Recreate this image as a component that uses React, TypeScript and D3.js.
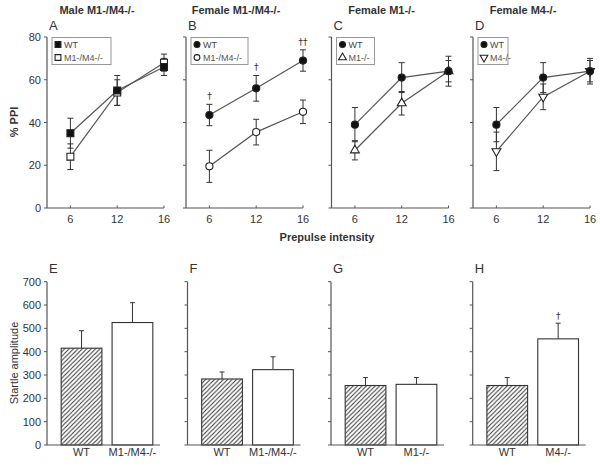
import React from "react";
import * as d3 from "d3";

const intensities = ["6", "12", "16"];

const titles = ["Male M1-/M4-/-", "Female M1-/M4-/-", "Female M1-/-", "Female M4-/-"];
const topLetters = ["A", "B", "C", "D"];
const bottomLetters = ["E", "F", "G", "H"];
const koNames = ["M1-/M4-/-", "M1-/M4-/-", "M1-/-", "M4-/-"];
const wtSymbols = ["square", "circle", "circle", "circle"];
const koSymbols = ["square", "circle", "triangle", "triangleDown"];

const wtPPI = [
  [35, 55, 66],
  [43.5, 56, 69],
  [39, 61, 64],
  [39, 61, 64],
];
const wtPPIErr = [
  [7, 7, 4],
  [5, 6, 5],
  [8, 7, 7],
  [8, 7, 6],
];
const koPPI = [
  [24, 54, 68],
  [19.5, 35.5, 45],
  [27, 49, 64],
  [26.5, 52, 64],
];
const koPPIErr = [
  [6, 6, 4],
  [7.5, 6, 5.5],
  [4.5, 5.5, 5],
  [9, 6, 5],
];
const ppiMarks = [
  ["", "", ""],
  ["†", "†", "††"],
  ["", "", ""],
  ["", "", ""],
];

const startleWT = [415, 283, 255, 255];
const startleWTErr = [75, 30, 34, 34];
const startleKO = [525, 323, 260, 455];
const startleKOErr = [85, 55, 29, 67];
const startleMarks = ["", "", "", "†"];

const ppiTicks = [0, 20, 40, 60, 80];
const startleTicks = [0, 100, 200, 300, 400, 500, 600, 700];

const topX0 = [47, 186, 331.5, 473];
const botX0 = [47, 187.5, 331, 472.7];
const legendW = [59, 57, 38, 30];

const FONT = "Liberation Sans, Arial, sans-serif";
const DAG = "DejaVu Sans, sans-serif";
const AX = "#555";
const TXT = "#333";

function symPath(kind: string, size: number) {
  if (kind === "square") return d3.symbol(d3.symbolSquare, size)()!;
  if (kind === "circle") return d3.symbol(d3.symbolCircle, size)()!;
  return d3.symbol(d3.symbolTriangle, size)()!;
}

function Marker({ kind, filled, x, y, size }: any) {
  const rot = kind === "triangleDown" ? 180 : 0;
  const sz = size ?? (kind === "square" ? 48 : kind === "circle" ? 40 : 34);
  return (
    <path
      d={symPath(kind, sz)}
      transform={`translate(${x},${y}) rotate(${rot})`}
      fill={filled ? "#111" : "#fff"}
      stroke="#222"
      strokeWidth={1.1}
    />
  );
}

function TopPanel({ i }: { i: number }) {
  const x0 = topX0[i];
  const W = 117;
  const y = d3.scaleLinear().domain([0, 80]).range([208, 37]);
  const xi = d3.scaleLinear().domain([-0.5, 2]).range([x0, x0 + W]);
  const line = d3
    .line<number>()
    .x((_, k) => xi(k))
    .y((d) => y(d));
  const series = [
    { v: koPPI[i], e: koPPIErr[i], kind: koSymbols[i], filled: false },
    { v: wtPPI[i], e: wtPPIErr[i], kind: wtSymbols[i], filled: true },
  ];
  const lx = x0 + 5;
  return (
    <g>
      <text x={x0 + 50} y={14} textAnchor="middle" fontFamily={FONT} fontWeight="bold" fontSize={11} fill={TXT}>
        {titles[i]}
      </text>
      <text x={x0 + 2} y={30} fontFamily={FONT} fontSize={13} fill={TXT}>
        {topLetters[i]}
      </text>
      <line x1={x0} x2={x0} y1={y(80)} y2={y(0)} stroke={AX} strokeWidth={1.2} />
      <line x1={x0} x2={x0 + W} y1={y(0)} y2={y(0)} stroke={AX} strokeWidth={1.2} />
      {ppiTicks.map((t) => (
        <g key={t}>
          <line x1={x0 - 3} x2={x0} y1={y(t)} y2={y(t)} stroke={AX} />
          {i === 0 && (
            <text x={x0 - 6} y={y(t) + 4} textAnchor="end" fontFamily={FONT} fontSize={11} fill={TXT}>
              {t}
            </text>
          )}
        </g>
      ))}
      {intensities.map((lab, k) => (
        <g key={lab}>
          <line x1={xi(k)} x2={xi(k)} y1={y(0)} y2={y(0) - 2.5} stroke={AX} />
          <text x={xi(k)} y={223} textAnchor="middle" fontFamily={FONT} fontSize={11} fill={TXT}>
            {lab}
          </text>
        </g>
      ))}
      {series.map((s, si) => (
        <g key={si}>
          <path d={line(s.v)!} fill="none" stroke="#555" strokeWidth={1.2} />
          {s.v.map((v, k) => (
            <g key={k} stroke="#333" strokeWidth={1}>
              <line x1={xi(k)} x2={xi(k)} y1={y(v - s.e[k])} y2={y(v + s.e[k])} />
              <line x1={xi(k) - 3} x2={xi(k) + 3} y1={y(v - s.e[k])} y2={y(v - s.e[k])} />
              <line x1={xi(k) - 3} x2={xi(k) + 3} y1={y(v + s.e[k])} y2={y(v + s.e[k])} />
            </g>
          ))}
        </g>
      ))}
      {series.map((s, si) =>
        s.v.map((v, k) => <Marker key={`${si}-${k}`} kind={s.kind} filled={s.filled} x={xi(k)} y={y(v)} />)
      )}
      {ppiMarks[i].map((m, k) =>
        m ? (
          <text key={k} x={xi(k)} y={y(wtPPI[i][k] + wtPPIErr[i][k]) - 5} textAnchor="middle" fontFamily={DAG} fontSize={9} fill="#333">
            {m}
          </text>
        ) : null
      )}
      <rect x={lx} y={37.5} width={legendW[i]} height={27} fill="#fff" stroke="#999" strokeWidth={1} />
      <Marker kind={wtSymbols[i]} filled={true} x={lx + 6} y={44.5} size={wtSymbols[i] === "square" ? 34 : 28} />
      <text x={lx + 12} y={48} fontFamily={FONT} fontSize={9} fill="#444">
        WT
      </text>
      <Marker kind={koSymbols[i]} filled={false} x={lx + 6} y={57.5} size={koSymbols[i] === "square" ? 34 : 26} />
      <text x={lx + 12} y={61} fontFamily={FONT} fontSize={9} fill="#555">
        {koNames[i]}
      </text>
    </g>
  );
}

function BottomPanel({ i }: { i: number }) {
  const x0 = botX0[i];
  const y = d3.scaleLinear().domain([0, 700]).range([445, 281.7]);
  const xb = d3
    .scaleBand<string>()
    .domain(["WT", koNames[i]])
    .range([x0 + 4, x0 + 116])
    .paddingInner(0.2)
    .paddingOuter(0.2);
  const bars = [
    { name: "WT", v: startleWT[i], e: startleWTErr[i], fill: "url(#hatch)" },
    { name: koNames[i], v: startleKO[i], e: startleKOErr[i], fill: "#fff" },
  ];
  return (
    <g>
      <text x={x0 + 2} y={273} fontFamily={FONT} fontSize={13} fill={TXT}>
        {bottomLetters[i]}
      </text>
      {bars.map((b, k) => {
        const cx = xb(b.name)! + xb.bandwidth() / 2;
        return (
          <g key={k}>
            <line x1={cx} x2={cx} y1={y(b.v)} y2={y(b.v + b.e)} stroke="#333" />
            <line x1={cx - 2.5} x2={cx + 2.5} y1={y(b.v + b.e)} y2={y(b.v + b.e)} stroke="#333" />
            <rect x={xb(b.name)} y={y(b.v)} width={xb.bandwidth()} height={y(0) - y(b.v)} fill={b.fill} stroke="#333" strokeWidth={1.1} />
            <text x={cx} y={456} textAnchor="middle" fontFamily={FONT} fontSize={11} fill={TXT}>
              {b.name}
            </text>
            {k === 1 && startleMarks[i] && (
              <text x={cx} y={y(b.v + b.e) - 4} textAnchor="middle" fontFamily={DAG} fontSize={9} fill="#333">
                {startleMarks[i]}
              </text>
            )}
          </g>
        );
      })}
      <line x1={x0} x2={x0} y1={y(700)} y2={y(0)} stroke={AX} strokeWidth={1.2} />
      <line x1={x0} x2={x0 + 113} y1={y(0)} y2={y(0)} stroke={AX} strokeWidth={1.2} />
      {startleTicks.map((t) => (
        <g key={t}>
          <line x1={x0 - 3} x2={x0} y1={y(t)} y2={y(t)} stroke={AX} />
          {i === 0 && (
            <text x={x0 - 6} y={y(t) + 4} textAnchor="end" fontFamily={FONT} fontSize={11} fill={TXT}>
              {t}
            </text>
          )}
        </g>
      ))}
    </g>
  );
}

export default function App() {
  return (
    <svg
      width={600}
      height={466}
      style={{ position: "absolute", left: 0, top: 0, background: "#fff" }}
    >
      <defs>
        <pattern id="hatch" patternUnits="userSpaceOnUse" width={4.4} height={4.4}>
          <rect width={4.4} height={4.4} fill="#fff" />
          <path d="M-1,1 L1,-1 M0,4.4 L4.4,0 M3.4,5.4 L5.4,3.4" stroke="#333" strokeWidth={1} />
        </pattern>
      </defs>
      <rect width={600} height={466} fill="#fff" />
      {[0, 1, 2, 3].map((i) => (
        <TopPanel key={i} i={i} />
      ))}
      {[0, 1, 2, 3].map((i) => (
        <BottomPanel key={i} i={i} />
      ))}
      <text transform="translate(18,122) rotate(-90)" textAnchor="middle" fontFamily={FONT} fontWeight="bold" fontSize={11} fill={TXT}>
        % PPI
      </text>
      <text transform="translate(18,363) rotate(-90)" textAnchor="middle" fontFamily={FONT} fontSize={11} fill={TXT}>
        Startle amplitude
      </text>
      <text x={327} y={241} textAnchor="middle" fontFamily={FONT} fontWeight="bold" fontSize={11} fill={TXT}>
        Prepulse intensity
      </text>
    </svg>
  );
}
